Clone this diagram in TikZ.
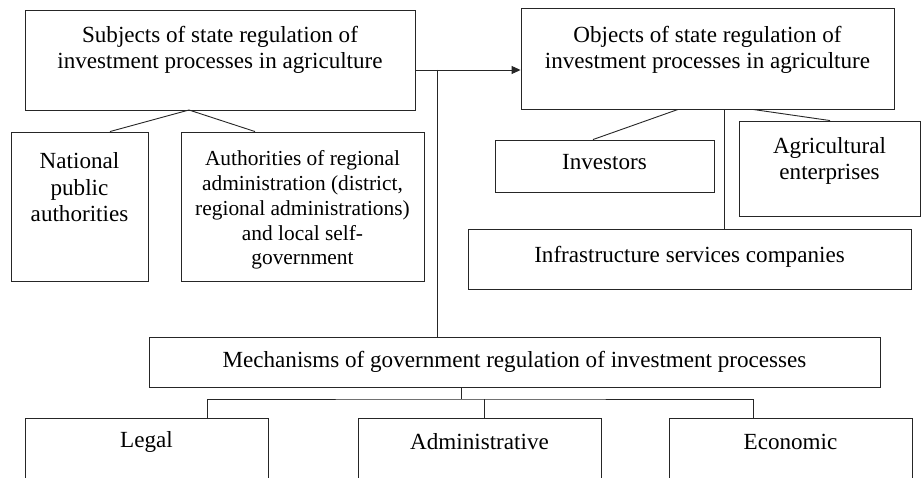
\documentclass[tikz,border=0pt]{standalone}
\usepackage{fontspec}
\setmainfont{Liberation Serif}
\usetikzlibrary{arrows.meta}
\begin{document}
\begin{tikzpicture}[x=1pt,y=-1pt,
  box/.style={draw=black!85,line width=0.9pt,inner sep=0pt},
  txt/.style={align=center,font=\fontsize{23.1}{26.5}\selectfont,inner sep=0pt},
  link/.style={draw=black!85,line width=0.9pt}]
\clip (0,0) rectangle (922,478);
\fill[white] (0,0) rectangle (922,478);
% top row
\node[box,minimum width=390pt,minimum height=100pt] (subj) at (220,60) {};
\node[txt] (subjt) at (220,50) {Subjects of state regulation of\\investment processes in agriculture};
\node[box,minimum width=373pt,minimum height=101pt] (obj) at (707.5,58.5) {};
\node[txt] (objt) at (707.5,50) {Objects of state regulation of\\investment processes in agriculture};
% subjects of regulation
\node[box,minimum width=137pt,minimum height=149pt] (nat) at (79.5,206.5) {};
\node[txt] (natt) at (79.5,187.5) {National\\public\\authorities};
\node[box,minimum width=243pt,minimum height=149pt] (auth) at (302.5,206.5) {};
\node[txt,font=\fontsize{21.4}{24.8}\selectfont] (autht) at (302.5,210) {Authorities of regional\\administration (district,\\regional administrations)\\and local self-\\government};
% objects of regulation
\node[box,minimum width=219pt,minimum height=52pt] (inv) at (604.5,166) {};
\node[txt] (invt) at (604.5,162) {Investors};
\node[box,minimum width=181pt,minimum height=95pt] (agr) at (829.5,168.5) {};
\node[txt] (agrt) at (829.5,161) {Agricultural\\enterprises};
\node[box,minimum width=443pt,minimum height=60pt] (inf) at (689.5,259) {};
\node[txt] (inft) at (689.5,257) {Infrastructure services companies};
% mechanisms
\node[box,minimum width=731pt,minimum height=50pt] (mech) at (514.5,362) {};
\node[txt] (mecht) at (514.5,362) {Mechanisms of government regulation of investment processes};
\node[box,minimum width=243pt,minimum height=80pt,anchor=north] (legal) at (146.5,418) {};
\node[txt] (legalt) at (146.5,442) {Legal};
\node[box,minimum width=243pt,minimum height=80pt,anchor=north] (adm) at (479.5,418) {};
\node[txt] (admt) at (479.5,442) {Administrative};
\node[box,minimum width=243pt,minimum height=80pt,anchor=north] (eco) at (790.5,418) {};
\node[txt] (ecot) at (790.5,442) {Economic};
% connectors
\coordinate (sj) at (189,110);
\draw[link] (sj) -- (nat.north -| 110,0);
\draw[link] (sj) -- (auth.north -| 255,0);
\draw[link,-{Triangle[length=9pt,width=8pt]}] (subj.east |- 0,70) -- (obj.west |- 0,70);
\draw[link] (437,70) -- (mech.north -| 437,0);
\draw[link] (obj.south -| 678,0) -- (inv.north -| 593,0);
\draw[link] (obj.south -| 753,0) -- (agr.north -| 830,0);
\draw[link] (obj.south -| 724,0) -- (inf.north -| 724,0);
\coordinate (bus) at (461,399);
\draw[link] (mech.south -| bus) -- (bus);
\draw[link] (legal.north -| 207,0) |- (bus) -| (eco.north -| 753,0);
\draw[link] (adm.north -| 484,0) -- (484,399);
\end{tikzpicture}
\end{document}
